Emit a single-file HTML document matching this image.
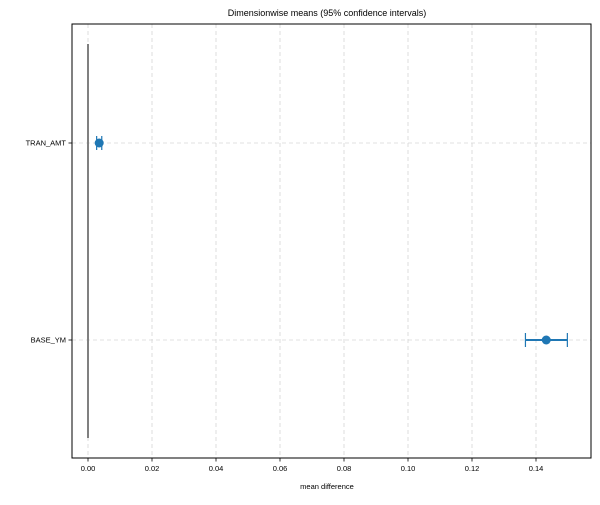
<!DOCTYPE html>
<html><head><meta charset="utf-8"><style>body{margin:0;background:#fff}svg{font-family:"Liberation Sans","DejaVu Sans",sans-serif}</style></head>
<body>
<svg id="chart" width="600" height="500" xmlns="http://www.w3.org/2000/svg"></svg>
<script>
const categories = ["TRAN_AMT", "BASE_YM"];
const means = [0.0035, 0.1432];
const lowers = [0.0027, 0.1367];
const uppers = [0.0043, 0.1498];
const xTicks = [0, 0.02, 0.04, 0.06, 0.08, 0.10, 0.12, 0.14];
const xTickLabels = ["0.00","0.02","0.04","0.06","0.08","0.10","0.12","0.14"];

const L=72,R=591,T=24,B=458;
const x = v => 88 + v*3200;
const yPos = [143, 340];
const y = i => yPos[i];
const svg=document.getElementById('chart');
const NS='http://www.w3.org/2000/svg';
function mk(tag,attrs,parent){const e=document.createElementNS(NS,tag);for(const k in attrs)e.setAttribute(k,attrs[k]);(parent||svg).appendChild(e);return e;}

const title=mk('text',{x:327,y:16,'text-anchor':'middle','font-size':9,fill:'#000'});
title.textContent='Dimensionwise means (95% confidence intervals)';



const grid=mk('g',{});


xTicks.forEach((t,i)=>{
  const gx=x(t);
  mk('line',{x1:gx,x2:gx,y1:T,y2:B,stroke:'#d6d6d6','stroke-dasharray':'4,3','stroke-width':0.8},grid);
  mk('line',{x1:gx,x2:gx,y1:B,y2:B+3.5,stroke:'#000','stroke-width':0.8});
  const tl=mk('text',{x:gx,y:B+13,'text-anchor':'middle','font-size':7.5,fill:'#000'});
  tl.textContent=xTickLabels[i];
  
  
});
categories.forEach((c,i)=>{
  const gy=y(i);
  mk('line',{x1:L,x2:R,y1:gy,y2:gy,stroke:'#d6d6d6','stroke-dasharray':'4,3','stroke-width':0.8},grid);
  mk('line',{x1:L-3.5,x2:L,y1:gy,y2:gy,stroke:'#000','stroke-width':0.8});
  const tl=mk('text',{x:L-6,y:gy+2.5,'text-anchor':'end','font-size':7.5,fill:'#000'});
  tl.textContent=c;
  
  
});

const zl=mk('line',{x1:x(0),x2:x(0),y1:44,y2:438,stroke:'#808080','stroke-width':2});



categories.forEach((c,i)=>{
  const g=mk('g',{});
  
  
  const gy=y(i);
  mk('line',{x1:x(lowers[i]),x2:x(uppers[i]),y1:gy,y2:gy,stroke:'#1f77b4','stroke-width':2},g);
  mk('line',{x1:x(lowers[i]),x2:x(lowers[i]),y1:gy-7,y2:gy+7,stroke:'#1f77b4','stroke-width':1.2},g);
  mk('line',{x1:x(uppers[i]),x2:x(uppers[i]),y1:gy-7,y2:gy+7,stroke:'#1f77b4','stroke-width':1.2},g);
  mk('circle',{cx:x(means[i]),cy:gy,r:4.5,fill:'#1f77b4'},g);
});

const frame=mk('rect',{x:L,y:T,width:R-L,height:B-T,fill:'none',stroke:'#000','stroke-width':1});



const xl=mk('text',{x:327,y:489,'text-anchor':'middle','font-size':7.5,fill:'#000'});
xl.textContent='mean difference';


</script>
</body></html>
